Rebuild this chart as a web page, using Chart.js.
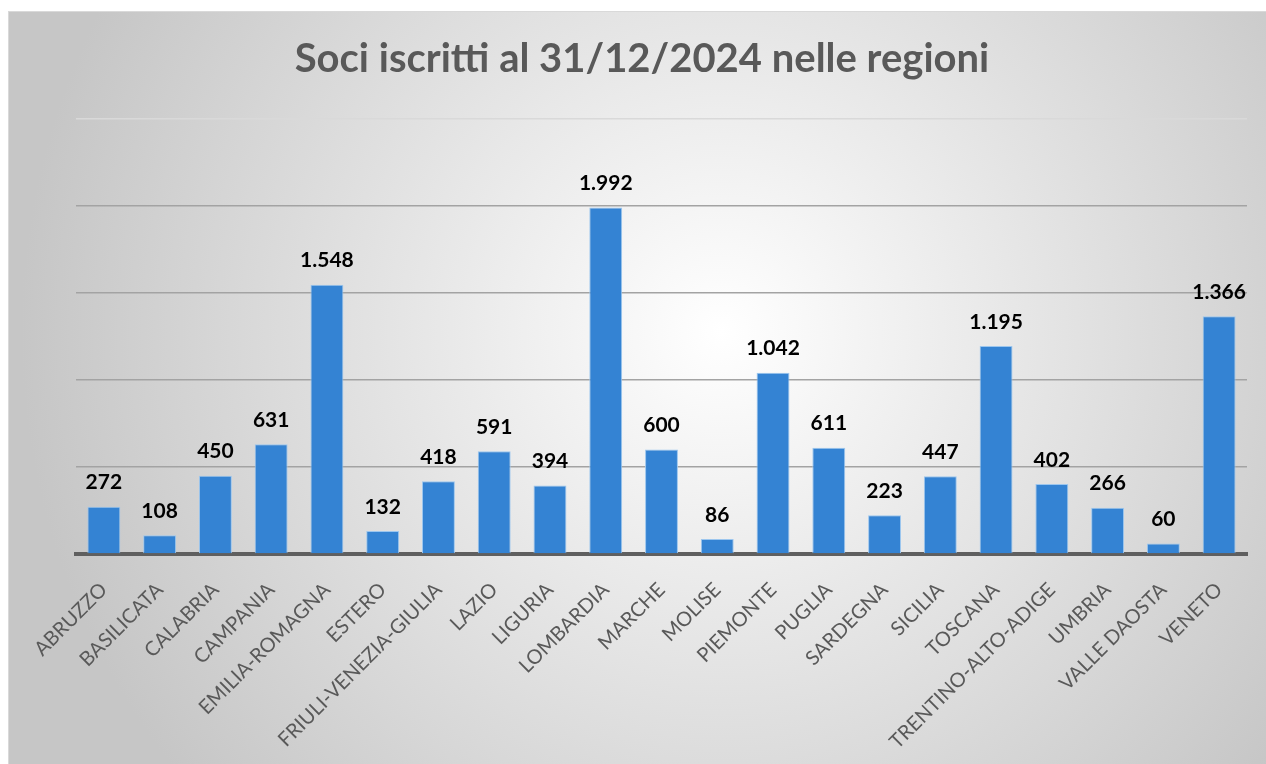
<!DOCTYPE html>
<html>
<head>
<meta charset="utf-8">
<script src="https://cdn.jsdelivr.net/npm/chart.js@4/dist/chart.umd.min.js"></script>
<style>
  html, body { margin: 0; padding: 0; background: #fff; overflow: hidden; }
  #frame {
    position: absolute; left: 8px; top: 11px; width: 1266px; height: 753px;
    border-top: 1px solid #d9d9d9; border-left: 1px solid #d9d9d9;
    background: radial-gradient(circle 700px at 712px 320px, #ffffff 0%, #c6c6c6 100%);
  }
  #grafico { display: block; }
</style>
</head>
<body>
<div id="frame"><canvas id="grafico" width="1266" height="753"></canvas></div>
<script>
// dati
const regioni = ['ABRUZZO', 'BASILICATA', 'CALABRIA', 'CAMPANIA', 'EMILIA-ROMAGNA', 'ESTERO',
    'FRIULI-VENEZIA-GIULIA', 'LAZIO', 'LIGURIA', 'LOMBARDIA', 'MARCHE', 'MOLISE', 'PIEMONTE',
    'PUGLIA', 'SARDEGNA', 'SICILIA', 'TOSCANA', 'TRENTINO-ALTO-ADIGE', 'UMBRIA', 'VALLE DAOSTA', 'VENETO'];
const soci = [272, 108, 450, 631, 1548, 132, 418, 591, 394, 1992, 600, 86, 1042, 611, 223, 447, 1195, 402, 266, 60, 1366];
const titolo = 'Soci iscritti al 31/12/2024 nelle regioni';

// formato italiano: 1.992
function formatta(n) {
    if (n < 1000) return String(n);
    return Math.floor(n / 1000) + '.' + String(n % 1000).padStart(3, '0');
}

const etichette = {
    id: 'etichette',
    afterDatasetsDraw(chart) {
        const ctx = chart.ctx;
        const meta = chart.getDatasetMeta(0);
        ctx.save();
        ctx.font = 'bold 21px Lato';
        ctx.fillStyle = '#000';
        ctx.textAlign = 'center';
        ctx.textBaseline = 'middle';
        meta.data.forEach((bar, i) => {
            ctx.fillText(formatta(soci[i]), bar.x, bar.y - 24);
        });
        ctx.restore();
    }
};

const ctx = document.getElementById('grafico').getContext('2d');
new Chart(ctx, {
    type: 'bar',
    data: {
        labels: regioni,
        datasets: [{
            data: soci,
            backgroundColor: '#3483d3',
            borderColor: '#9cc6ee',
            borderWidth: 1,
            categoryPercentage: 1,
            barPercentage: 0.59
        }]
    },
    options: {
        responsive: false,
        animation: false,
        layout: { padding: 0 },
        plugins: {
            legend: { display: false },
            tooltip: { enabled: false },
            title: {
                display: true,
                text: titolo,
                color: '#595959',
                font: { family: 'Lato', size: 40, weight: 'bold' },
                padding: { top: 23, bottom: 36 }
            }
        },
        scales: {
            x: {
                grid: { display: false },
                border: { display: true, color: '#5f5f5f', width: 4 },
                ticks: {
                    color: '#595959',
                    font: { family: 'Lato', size: 20 },
                    minRotation: 45,
                    maxRotation: 45,
                    autoSkip: false,
                    padding: 16
                },
                afterFit(s) { s.height = 211; }
            },
            y: {
                min: 0,
                max: 2500,
                ticks: { display: false, stepSize: 500 },
                border: { display: false },
                grid: {
                    color: c => c.tick.value === 2500 ? '#d9d9d9' : '#a3a3a3',
                    lineWidth: 1.5,
                    drawTicks: false
                },
                afterFit(s) { s.width = 67; }
            },
            // asse vuoto a destra, serve solo per il margine
            margine: {
                position: 'right',
                grid: { display: false },
                border: { display: false },
                ticks: { display: false },
                afterFit(s) { s.width = 28; }
            }
        }
    },
    plugins: [etichette]
});
</script>
</body>
</html>
